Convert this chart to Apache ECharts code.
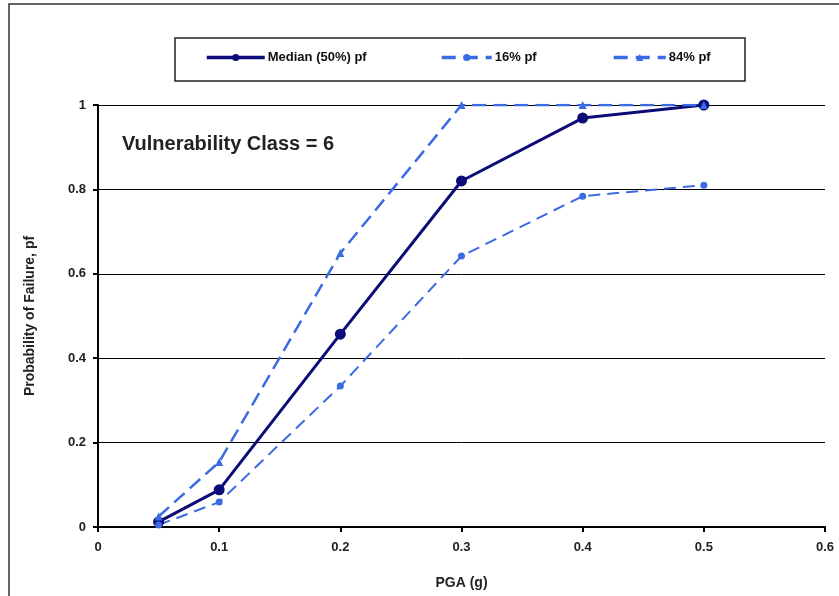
<!DOCTYPE html>
<html>
<head>
<meta charset="utf-8">
<script src="https://cdn.jsdelivr.net/npm/echarts@6/dist/echarts.min.js"></script>
<style>
  html, body { margin: 0; padding: 0; background: #fff; }
  #chart { width: 839px; height: 596px; }
</style>
</head>
<body>
<div id="chart"></div>
<script>
var pga = [0.05, 0.1, 0.2, 0.3, 0.4, 0.5];
var median = [0.012, 0.088, 0.457, 0.82, 0.969, 1.0];
var p16 = [0.005, 0.059, 0.334, 0.642, 0.784, 0.81];
var p84 = [0.025, 0.154, 0.649, 1.0, 1.0, 1.0];

var navy = '#0c0c78';
var blue = '#3b6be3';
var font = 'Liberation Sans, Arial, sans-serif';

function pairs(ys) {
    var out = [];
    for (var i = 0; i < pga.length; i++) {
        out.push([pga[i], ys[i]]);
    }
    return out;
}

function legendAt(name, left, width, dash) {
    return {
        data: [name],
        left: left,
        top: 51,
        itemWidth: width,
        itemHeight: 9,
        itemGap: 0,
        padding: 0,
        lineStyle: { width: 3.5, type: dash },
        textStyle: { fontFamily: font, fontWeight: 'bold', fontSize: 13, color: '#111', padding: [0, 0, 0, -2] }
    };
}

var myChart = echarts.init(document.getElementById('chart'));

var option = {
    animation: false,
    backgroundColor: '#fff',
    title: {
        text: 'Vulnerability Class = 6',
        left: 117,
        top: 129,
        textStyle: { fontFamily: font, fontWeight: 'bold', fontSize: 20, color: '#222' }
    },
    graphic: [
        { type: 'polyline', shape: { points: [[9, 596], [9, 4], [839, 4]] }, style: { stroke: '#333', lineWidth: 1.5, fill: null } },
        { type: 'rect', shape: { x: 175, y: 38, width: 570, height: 43 }, style: { stroke: '#222', lineWidth: 1.5, fill: null } }
    ],
    legend: [
        legendAt('Median (50%) pf', 205, 58, 'solid'),
        legendAt('16% pf', 440, 50, [14, 8]),
        legendAt('84% pf', 612, 52, [14, 8])
    ],
    grid: { left: 98, right: 14, top: 105, bottom: 69 },
    xAxis: {
        type: 'value',
        min: 0,
        max: 0.6,
        interval: 0.1,
        name: 'PGA (g)',
        nameLocation: 'middle',
        nameGap: 49,
        nameTextStyle: { fontFamily: font, fontWeight: 'bold', fontSize: 14, color: '#222' },
        axisLine: { lineStyle: { color: '#000', width: 2 } },
        axisTick: { show: true, inside: false, length: 5, lineStyle: { color: '#000', width: 2 } },
        axisLabel: { fontFamily: font, fontWeight: 'bold', fontSize: 13, color: '#222', margin: 14 },
        splitLine: { show: false }
    },
    yAxis: {
        type: 'value',
        min: 0,
        max: 1,
        interval: 0.2,
        name: 'Probability of Failure, pf',
        nameLocation: 'middle',
        nameGap: 61,
        nameTextStyle: { fontFamily: font, fontWeight: 'bold', fontSize: 14, color: '#222' },
        axisLine: { show: true, lineStyle: { color: '#000', width: 2 } },
        axisTick: { show: true, inside: false, length: 5, lineStyle: { color: '#000', width: 2 } },
        axisLabel: { fontFamily: font, fontWeight: 'bold', fontSize: 13, color: '#222', margin: 12 },
        splitLine: { show: true, lineStyle: { color: '#000', width: 1 } }
    },
    series: [
        {
            name: 'Median (50%) pf',
            type: 'line',
            data: pairs(median),
            color: navy,
            symbol: 'circle',
            symbolSize: 11,
            lineStyle: { width: 3, color: navy },
            itemStyle: { color: navy }
        },
        {
            name: '16% pf',
            type: 'line',
            data: pairs(p16),
            color: blue,
            symbol: 'circle',
            symbolSize: 7,
            lineStyle: { width: 2, color: blue, type: [12, 7] },
            itemStyle: { color: blue }
        },
        {
            name: '84% pf',
            type: 'line',
            data: pairs(p84),
            color: blue,
            symbol: 'triangle',
            symbolSize: 8,
            lineStyle: { width: 2.5, color: blue, type: [14, 7] },
            itemStyle: { color: blue }
        }
    ]
};

myChart.setOption(option);
</script>
</body>
</html>
